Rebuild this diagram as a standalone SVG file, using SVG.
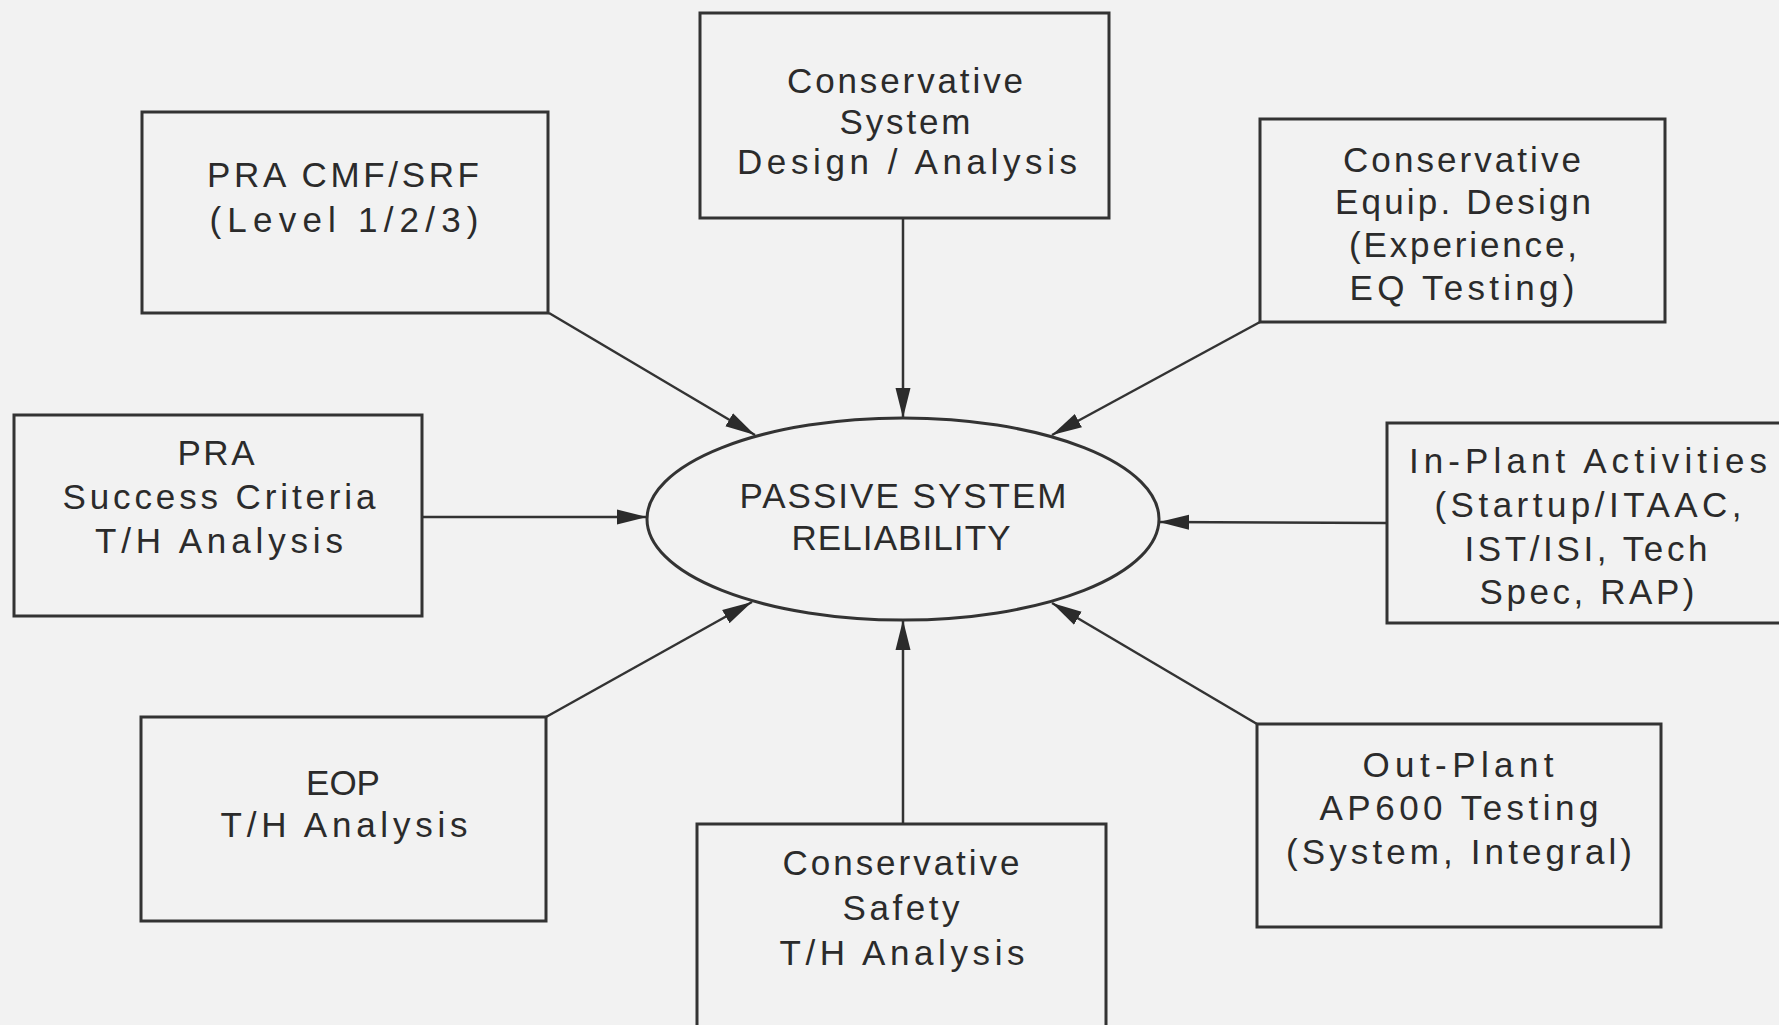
<svg xmlns="http://www.w3.org/2000/svg" width="1779" height="1025" viewBox="0 0 1779 1025">
<style>
.bx{fill:none;stroke:#333;stroke-width:3}
.el{fill:none;stroke:#333;stroke-width:3}
.t{font-family:"Liberation Sans",Arial,sans-serif;font-size:35px;fill:#2b2b2b;text-anchor:middle}
.cn{fill:none;stroke:#333;stroke-width:2.5;marker-end:url(#ah)}
</style>
<defs>
<marker id="ah" markerUnits="userSpaceOnUse" markerWidth="30" markerHeight="18" refX="30" refY="9" orient="auto">
<path d="M0,1.5 L30,9 L0,16.5 z" fill="#2b2b2b"/>
</marker>
</defs>
<rect width="1779" height="1025" fill="#f2f2f2"/>
<g id="connectors">
<line class="cn" x1="903" y1="218" x2="903" y2="418"/>
<line class="cn" x1="549" y1="313" x2="755" y2="435"/>
<line class="cn" x1="422" y1="517" x2="647" y2="517"/>
<line class="cn" x1="546" y1="717" x2="752" y2="602"/>
<line class="cn" x1="903" y1="824" x2="903" y2="620"/>
<line class="cn" x1="1257" y1="724" x2="1052" y2="603"/>
<line class="cn" x1="1387" y1="523" x2="1159" y2="522"/>
<line class="cn" x1="1260" y1="322" x2="1052" y2="435"/>
</g>
<g id="center">
<ellipse class="el" cx="903" cy="519" rx="256" ry="101"/>
<text class="t" x="903" y="508" textLength="327" lengthAdjust="spacing">PASSIVE SYSTEM</text>
<text class="t" x="901" y="550" textLength="219" lengthAdjust="spacing">RELIABILITY</text>
</g>
<g id="pra-cmf">
<rect class="bx" x="142" y="112" width="406" height="201"/>
<text class="t" x="343" y="187" textLength="272" lengthAdjust="spacing">PRA CMF/SRF</text>
<text class="t" x="344" y="232" textLength="269" lengthAdjust="spacing">(Level 1/2/3)</text>
</g>
<g id="cons-system">
<rect class="bx" x="700" y="13" width="409" height="205"/>
<text class="t" x="905" y="93" textLength="236" lengthAdjust="spacing">Conservative</text>
<text class="t" x="905" y="134" textLength="131" lengthAdjust="spacing">System</text>
<text class="t" x="907" y="174" textLength="340" lengthAdjust="spacing">Design / Analysis</text>
</g>
<g id="cons-equip">
<rect class="bx" x="1260" y="119" width="405" height="203"/>
<text class="t" x="1462" y="172" textLength="238" lengthAdjust="spacing">Conservative</text>
<text class="t" x="1463" y="214" textLength="256" lengthAdjust="spacing">Equip. Design</text>
<text class="t" x="1463" y="257" textLength="228" lengthAdjust="spacing">(Experience,</text>
<text class="t" x="1462" y="300" textLength="225" lengthAdjust="spacing">EQ Testing)</text>
</g>
<g id="pra-success">
<rect class="bx" x="14" y="415" width="408" height="201"/>
<text class="t" x="216" y="465" textLength="77" lengthAdjust="spacing">PRA</text>
<text class="t" x="219" y="509" textLength="313" lengthAdjust="spacing">Success Criteria</text>
<text class="t" x="219" y="553" textLength="248" lengthAdjust="spacing">T/H Analysis</text>
</g>
<g id="in-plant">
<rect class="bx" x="1387" y="423" width="420" height="200"/>
<text class="t" x="1588" y="473" textLength="358" lengthAdjust="spacing">In-Plant Activities</text>
<text class="t" x="1588" y="517" textLength="307" lengthAdjust="spacing">(Startup/ITAAC,</text>
<text class="t" x="1586" y="561" textLength="243" lengthAdjust="spacing">IST/ISI, Tech</text>
<text class="t" x="1587" y="604" textLength="215" lengthAdjust="spacing">Spec, RAP)</text>
</g>
<g id="eop">
<rect class="bx" x="141" y="717" width="405" height="204"/>
<text class="t" x="343" y="795">EOP</text>
<text class="t" x="344" y="837" textLength="247" lengthAdjust="spacing">T/H Analysis</text>
</g>
<g id="cons-safety">
<rect class="bx" x="697" y="824" width="409" height="220"/>
<text class="t" x="901" y="875" textLength="237" lengthAdjust="spacing">Conservative</text>
<text class="t" x="901" y="920" textLength="117" lengthAdjust="spacing">Safety</text>
<text class="t" x="902" y="965" textLength="245" lengthAdjust="spacing">T/H Analysis</text>
</g>
<g id="out-plant">
<rect class="bx" x="1257" y="724" width="404" height="203"/>
<text class="t" x="1458" y="777" textLength="191" lengthAdjust="spacing">Out-Plant</text>
<text class="t" x="1459" y="820" textLength="279" lengthAdjust="spacing">AP600 Testing</text>
<text class="t" x="1459" y="864" textLength="346" lengthAdjust="spacing">(System, Integral)</text>
</g>
</svg>
